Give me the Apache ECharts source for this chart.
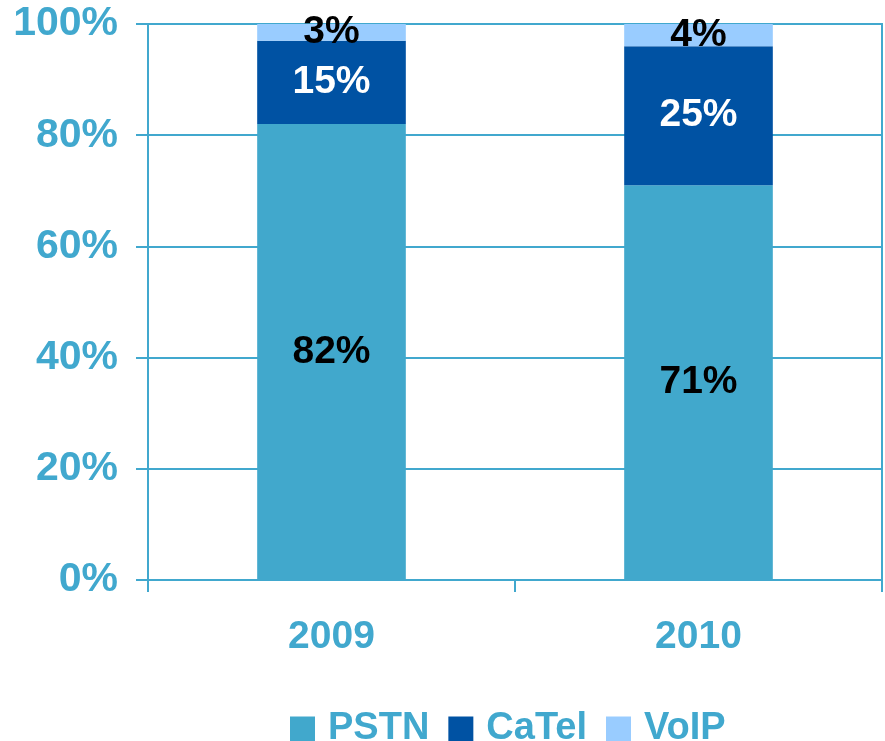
<!DOCTYPE html>
<html>
<head>
<meta charset="utf-8">
<script src="https://cdn.jsdelivr.net/npm/echarts@6/dist/echarts.min.js"></script>
<style>
  html, body { margin: 0; padding: 0; background: #fff; }
  #chart { width: 885px; height: 741px; }
</style>
</head>
<body>
<div id="chart"></div>
<script>
var years = ['2009', '2010']
var pstn = [82, 71]
var catel = [15, 25]
var voip = [3, 4]
var yTicks = [0, 20, 40, 60, 80, 100]

var teal = '#41A8CE'
var font = 'Liberation Sans, Arial, sans-serif'

function label (color) {
  return {
    show: true,
    position: 'inside',
    formatter: '{c}%',
    color: color,
    fontFamily: font,
    fontWeight: 'bold',
    fontSize: 39
  }
}

var chart = echarts.init(document.getElementById('chart'))
chart.setOption({
  animation: false,
  grid: {
    left: 148,
    right: 3,
    top: 24,
    bottom: 161,
    show: true,
    borderColor: teal,
    borderWidth: 2
  },
  legend: {
    bottom: -12,
    left: 285,
    itemWidth: 25,
    itemHeight: 25,
    itemGap: 19,
    icon: 'rect',
    textStyle: { color: teal, fontFamily: font, fontWeight: 'bold', fontSize: 38, padding: [0, 0, 0, 8] },
    data: ['PSTN', 'CaTel', 'VoIP']
  },
  xAxis: {
    type: 'category',
    data: years,
    axisLine: { lineStyle: { color: teal, width: 2 } },
    axisTick: { show: true, length: 12, lineStyle: { color: teal, width: 2 } },
    axisLabel: { color: teal, fontFamily: font, fontWeight: 'bold', fontSize: 39, margin: 38 }
  },
  yAxis: {
    type: 'value',
    min: yTicks[0],
    max: yTicks[yTicks.length - 1],
    interval: 20,
    axisLine: { show: true, lineStyle: { color: teal, width: 2 } },
    axisTick: { show: true, length: 12, lineStyle: { color: teal, width: 2 } },
    splitLine: { lineStyle: { color: teal, width: 2 } },
    axisLabel: {
      color: teal, fontFamily: font, fontWeight: 'bold', fontSize: 41, margin: 30,
      formatter: '{value}%'
    }
  },
  series: [
    { name: 'PSTN', type: 'bar', stack: 'a', barWidth: '40.5%', data: pstn,
      itemStyle: { color: '#41A8CC' }, label: label('#000') },
    { name: 'CaTel', type: 'bar', stack: 'a', data: catel,
      itemStyle: { color: '#0052A3' }, label: label('#fff') },
    { name: 'VoIP', type: 'bar', stack: 'a', data: voip,
      itemStyle: { color: '#99CCFF' }, label: label('#000') }
  ]
})
</script>
</body>
</html>
